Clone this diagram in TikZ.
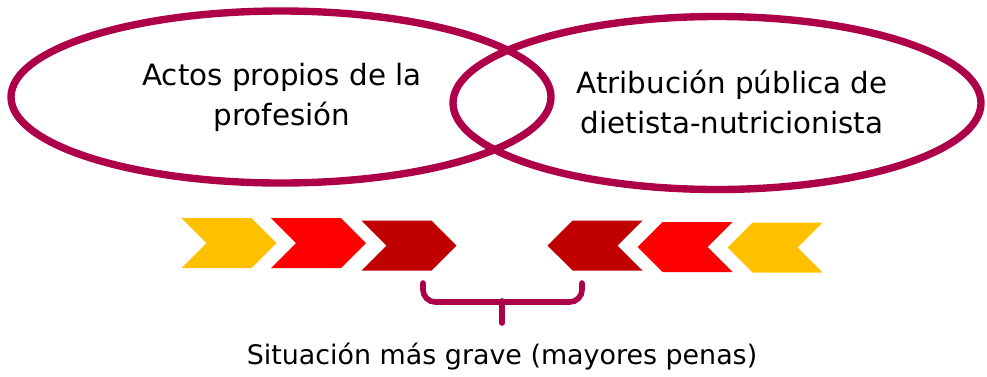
\documentclass[tikz,border=0pt]{standalone}
\usepackage{fontspec}
\setmainfont{DejaVu Sans}
\usetikzlibrary{shapes.geometric,shapes.symbols}
\definecolor{wine}{RGB}{174,0,72}
\definecolor{amber}{RGB}{255,192,0}
\definecolor{brightred}{RGB}{255,0,0}
\definecolor{darkred}{RGB}{192,0,0}

\begin{document}
\begin{tikzpicture}[
    ring/.style={
        draw=wine,
        line width=4.2pt,
        ellipse,
        inner sep=0pt
    },
    label/.style={
        align=center,
        font=\fontsize{16.7}{23}\selectfont
    },
    arrowright/.style={
        signal,
        signal to=east,
        signal from=west,
        signal pointer angle=90,
        minimum width=1.9cm,
        minimum height=1cm,
        inner sep=0pt
    },
    arrowleft/.style={
        signal,
        signal to=west,
        signal from=east,
        signal pointer angle=90,
        minimum width=1.9cm,
        minimum height=1cm,
        inner sep=0pt
    }
]
\useasboundingbox (0,0) rectangle (19.74,7.52);

% Ellipses
\node[ring, minimum width=10.8cm, minimum height=3.44cm] (acts) at (5.62,5.58) {};
\node[ring, minimum width=10.56cm, minimum height=3.46cm] (title) at (14.34,5.46) {};
\node[label] (actstext) at (5.64,5.57) {Actos propios de la\\profesión};
\node[label] (titletext) at (14.64,5.48) {Atribución pública de\\dietista-nutricionista};

% Left arrows
\node[arrowright, fill=amber] (l1) at (4.58,2.66) {};
\node[arrowright, fill=brightred] (l2) at (6.37,2.66) {};
\node[arrowright, fill=darkred] (l3) at (8.18,2.61) {};

% Right arrows
\node[arrowleft, fill=darkred] (r3) at (11.9,2.61) {};
\node[arrowleft, fill=brightred] (r2) at (13.7,2.58) {};
\node[arrowleft, fill=amber] (r1) at (15.5,2.57) {};

% Brace
\coordinate (bl) at (8.46,1.86);
\coordinate (br) at (11.64,1.86);
\coordinate (bm) at (10.04,1.06);
\draw[wine, line width=3.2pt, rounded corners=7pt, line cap=round]
    (bl) -- (bl |- 0,1.48) -- (br |- 0,1.48) -- (br);
\draw[wine, line width=3.2pt, line cap=round]
    (bm |- 0,1.5) -- (bm);

\node[font=\fontsize{15.3}{18}\selectfont] (worst) at (10.04,0.38) {Situación más grave (mayores penas)};

\end{tikzpicture}
\end{document}
